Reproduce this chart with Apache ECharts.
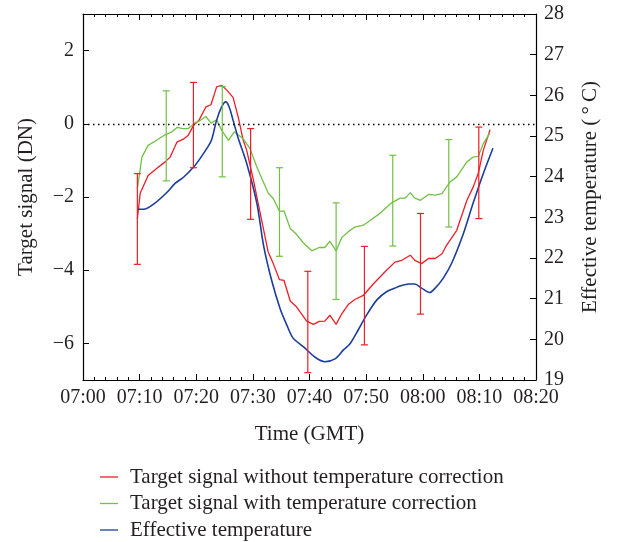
<!DOCTYPE html>
<html>
<head>
<meta charset="utf-8">
<script src="https://cdn.jsdelivr.net/npm/echarts@6/dist/echarts.min.js"></script>
<style>
html,body{margin:0;padding:0;background:#fff;}
#chart{width:617px;height:542px;}
</style>
</head>
<body>
<div id="chart"></div>
<script>
// minutes after 07:00 GMT
var xTickLabels = ['07:00','07:10','07:20','07:30','07:40','07:50','08:00','08:10','08:20'];
var seriesNames = ['Target signal without temperature correction','Target signal with temperature correction','Effective temperature'];

var redSignal = [[9.6,-2.6],[10.1,-1.9],[11.5,-1.41],[13.0,-1.22],[14.5,-1.04],[15.4,-0.91],[16.6,-0.5],[17.7,-0.42],[18.6,-0.31],[19.5,-0.05],[20.5,0.1],[21.7,0.46],[22.6,0.52],[23.6,1.01],[24.5,1.05],[25.4,0.92],[26.5,0.72],[27.4,0.19],[28.3,-0.45],[28.9,-0.72],[30.1,-1.54],[31.3,-2.45],[32.7,-3.5],[33.6,-3.82],[34.7,-4.26],[35.5,-4.28],[36.6,-4.84],[37.7,-5.0],[39.5,-5.39],[40.7,-5.48],[41.7,-5.4],[42.7,-5.39],[43.6,-5.23],[44.7,-5.48],[45.7,-5.19],[46.9,-4.93],[48.0,-4.8],[49.5,-4.69],[51.3,-4.37],[53.6,-4.0],[55.1,-3.78],[56.3,-3.73],[57.8,-3.59],[58.6,-3.73],[59.8,-3.82],[61.0,-3.68],[62.2,-3.68],[63.4,-3.55],[64.2,-3.32],[66.0,-2.91],[67.8,-2.09],[68.9,-1.73],[69.8,-1.36],[70.7,-0.72],[71.9,-0.16]];

var greenSignal = [[9.6,-1.77],[10.4,-0.91],[11.5,-0.59],[13.0,-0.45],[14.5,-0.3],[15.7,-0.22],[16.6,-0.1],[17.7,-0.13],[18.6,-0.13],[19.8,0.03],[20.5,0.07],[21.7,0.2],[22.6,0.02],[23.6,0.11],[24.5,-0.18],[25.7,-0.45],[26.7,-0.22],[28.3,-0.41],[29.5,-0.68],[30.7,-1.18],[32.7,-1.89],[33.6,-2.04],[34.7,-2.39],[35.5,-2.38],[36.6,-2.86],[37.7,-3.02],[38.9,-3.25],[40.4,-3.47],[41.7,-3.38],[42.7,-3.38],[43.6,-3.21],[44.7,-3.47],[45.7,-3.11],[46.9,-2.94],[48.0,-2.82],[49.5,-2.77],[50.7,-2.64],[52.5,-2.44],[54.5,-2.16],[56.0,-2.03],[56.9,-2.03],[57.8,-1.88],[58.6,-2.03],[59.6,-2.09],[61.0,-1.93],[62.2,-1.95],[63.4,-1.91],[64.8,-1.59],[66.0,-1.45],[67.8,-1.04],[68.9,-0.91],[69.8,-0.89],[70.7,-0.54],[71.8,-0.27]];

var blueTemp = [[9.6,23.2],[10.7,23.2],[12.7,23.35],[14.8,23.61],[16.3,23.84],[17.7,23.98],[19.5,24.23],[20.7,24.45],[21.9,24.7],[22.7,24.9],[23.6,25.39],[24.5,25.72],[25.2,25.84],[25.8,25.72],[26.5,25.39],[27.4,24.95],[28.9,24.33],[30.7,23.35],[31.9,22.3],[33.3,21.46],[34.8,20.76],[36.0,20.35],[37.1,20.03],[38.9,19.82],[41.0,19.56],[42.7,19.45],[44.5,19.52],[46.0,19.74],[47.2,19.9],[48.6,20.23],[50.1,20.6],[51.9,20.97],[53.6,21.17],[55.1,21.26],[56.0,21.31],[57.5,21.36],[58.6,21.36],[59.8,21.26],[61.2,21.15],[62.2,21.26],[63.6,21.5],[65.1,21.87],[67.2,22.61],[68.9,23.35],[70.7,24.08],[72.4,24.7]];

// [time, low, high]
var redErrors = [[9.6,-3.84,-1.36],[19.5,-1.2,1.13],[29.6,-2.61,-0.13],[39.7,-6.8,-4.03],[49.7,-6.04,-3.35],[59.6,-5.2,-2.45],[69.9,-2.59,-0.09]];
var greenErrors = [[14.7,-1.56,0.9],[24.6,-1.45,1.02],[34.7,-3.62,-1.2],[44.7,-4.8,-2.16],[54.7,-3.34,-0.86],[64.6,-2.82,-0.43]];

var RED = '#ee1d25', GREEN = '#72c045', BLUE = '#1b3d9e', INK = '#231f20';
var FONT = 'Liberation Serif';

function errorBar(color){
  return function(params, api){
    var x = api.value(0);
    var lo = api.coord([x, api.value(1)]);
    var hi = api.coord([x, api.value(2)]);
    var hw = 3.5;
    var st = {stroke: color, lineWidth: 1.2};
    return {type:'group', children:[
      {type:'line', shape:{x1:lo[0],y1:lo[1],x2:hi[0],y2:hi[1]}, style:st},
      {type:'line', shape:{x1:lo[0]-hw,y1:lo[1],x2:lo[0]+hw,y2:lo[1]}, style:st},
      {type:'line', shape:{x1:hi[0]-hw,y1:hi[1],x2:hi[0]+hw,y2:hi[1]}, style:st}
    ]};
  };
}

var chart = echarts.init(document.getElementById('chart'), null, {renderer:'canvas'});
var axisLbl = {color: INK, fontFamily: FONT, fontSize: 20};
var nameStyle = {color: INK, fontFamily: FONT, fontSize: 21};
chart.setOption({
  animation: false,
  backgroundColor: '#fff',
  textStyle: {fontFamily: FONT},
  grid: {left: 83, right: 81, top: 14, bottom: 162},
  legend: {
    orient: 'vertical', left: 100, top: 466, padding: 0, height: 80,
    data: seriesNames,
    icon: 'rect', itemWidth: 18, itemHeight: 1.3, itemGap: 4.5,
    textStyle: {color: INK, fontFamily: FONT, fontSize: 21, lineHeight: 22, padding: [0,0,0,7]},
    selectedMode: false
  },
  xAxis: [{
    type: 'value', min: 0, max: 80, interval: 10,
    name: 'Time (GMT)', nameLocation: 'middle', nameGap: 44,
    nameTextStyle: nameStyle,
    axisLine: {show: true, onZero: false, lineStyle: {color: '#000', width: 1.2}},
    axisTick: {show: true, inside: true, length: 6, lineStyle: {color: '#000'}},
    minorTick: {show: true, splitNumber: 5, length: 3, lineStyle: {color: '#000'}},
    splitLine: {show: false},
    axisLabel: Object.assign({margin: 8, formatter: function(v){ return xTickLabels[Math.round(v/10)]; }}, axisLbl)
  },{
    type: 'value', position: 'top', min: 0, max: 80, interval: 10,
    axisLine: {show: true, onZero: false, lineStyle: {color: '#000', width: 1.2}},
    axisTick: {show: true, inside: true, length: 6, lineStyle: {color: '#000'}},
    minorTick: {show: true, splitNumber: 5, length: 3, lineStyle: {color: '#000'}},
    splitLine: {show: false},
    axisLabel: {show: false}
  }],
  yAxis: [{
    type: 'value', min: -7, max: 3, splitNumber: 5,
    name: 'Target signal (DN)', nameLocation: 'middle', nameGap: 46,
    nameTextStyle: nameStyle,
    axisLine: {show: true, onZero: false, lineStyle: {color: '#000', width: 1.2}},
    axisTick: {show: true, inside: true, length: 6, lineStyle: {color: '#000'}},
    splitLine: {show: false},
    axisLabel: Object.assign({margin: 9, showMinLabel: false, showMaxLabel: false,
      formatter: function(v){ return v < 0 ? '\u2212' + Math.abs(v) : String(v); }}, axisLbl)
  },{
    type: 'value', min: 19, max: 28, interval: 1, position: 'right',
    name: 'Effective temperature (\u2009\u00b0\u2009C)', nameLocation: 'middle', nameGap: 44,
    nameTextStyle: nameStyle,
    axisLine: {show: true, onZero: false, lineStyle: {color: '#000', width: 1.2}},
    axisTick: {show: true, inside: true, length: 6, lineStyle: {color: '#000'}},
    splitLine: {show: false},
    axisLabel: Object.assign({margin: 8}, axisLbl)
  }],
  series: [{
    name: seriesNames[0], type: 'line', data: redSignal, showSymbol: false,
    lineStyle: {color: RED, width: 1.3}, itemStyle: {color: RED}, z: 3,
    markLine: {silent: true, symbol: ['none','none'], label: {show: false},
      lineStyle: {color: '#000', type: [1.5,3.5], width: 1.3},
      data: [{yAxis: 0}]}
  },{
    name: seriesNames[1], type: 'line', data: greenSignal, showSymbol: false,
    lineStyle: {color: GREEN, width: 1.3}, itemStyle: {color: GREEN}, z: 3
  },{
    name: seriesNames[2], type: 'line', yAxisIndex: 1, data: blueTemp, showSymbol: false,
    smooth: 0.3,
    lineStyle: {color: BLUE, width: 1.6}, itemStyle: {color: BLUE}, z: 4
  },{
    type: 'custom', data: redErrors, renderItem: errorBar(RED), encode: {x: 0, y: [1,2]}, z: 5, silent: true
  },{
    type: 'custom', data: greenErrors, renderItem: errorBar(GREEN), encode: {x: 0, y: [1,2]}, z: 5, silent: true
  }]
});
</script>
</body>
</html>
